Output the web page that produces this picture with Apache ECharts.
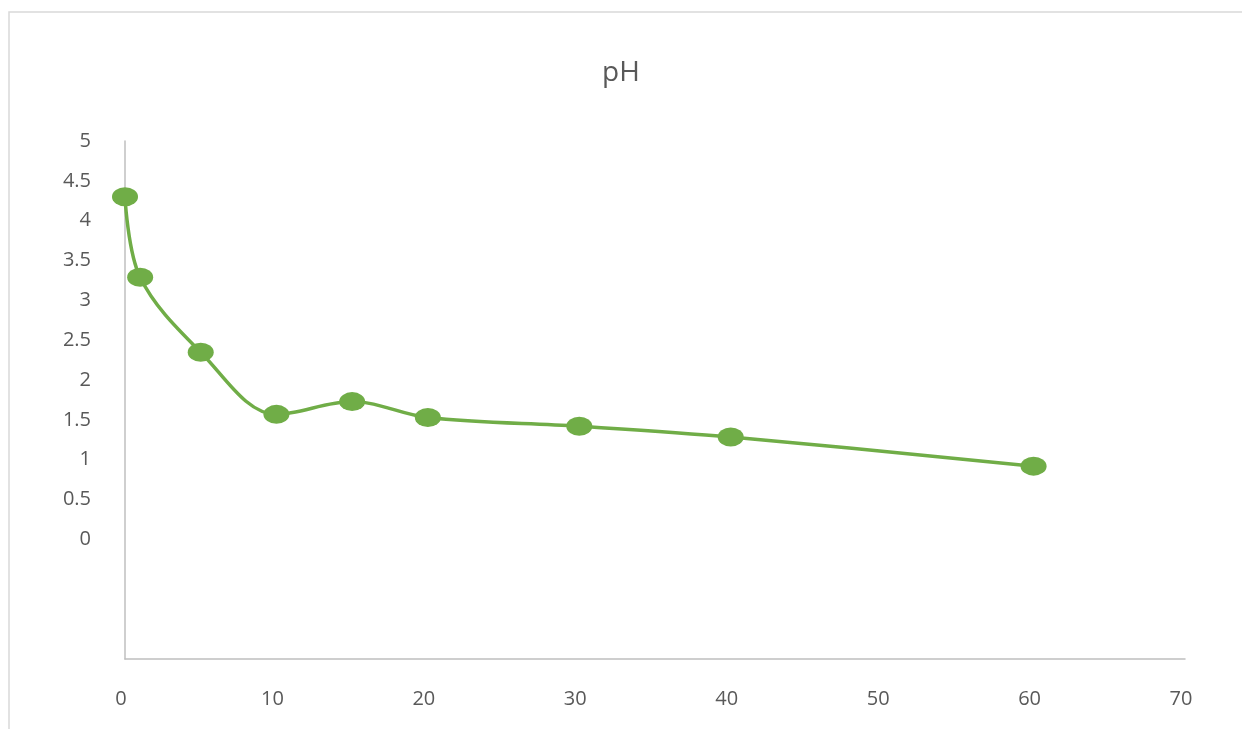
<!DOCTYPE html>
<html>
<head>
<meta charset="utf-8">
<script src="https://cdn.jsdelivr.net/npm/echarts@6/dist/echarts.min.js"></script>
<style>
  html, body { margin: 0; padding: 0; background: #ffffff; }
  #chart { width: 1242px; height: 729px; }
</style>
</head>
<body>
<div id="chart"></div>
<script>
// Time values and measured pH
const times = [0, 1, 5, 10, 15, 20, 30, 40, 60];
const phValues = [4.3, 3.29, 2.35, 1.57, 1.73, 1.53, 1.42, 1.285, 0.92];

const textColor = '#595959';
const axisColor = '#bfbfbf';
const lineColor = '#70ad47';
const fontFamily = '"Open Sans", "Noto Sans", sans-serif';

const chart = echarts.init(document.getElementById('chart'), null, { renderer: 'canvas' });

chart.setOption({
  animation: false,
  backgroundColor: '#ffffff',
  graphic: [{
    type: 'rect',
    shape: { x: 9, y: 12, width: 1300, height: 800 },
    style: { fill: 'none', stroke: '#d9d9d9', lineWidth: 1.5 },
    silent: true
  }],
  title: {
    text: 'pH',
    left: 'center',
    top: 54,
    textStyle: { color: textColor, fontSize: 28, fontWeight: 'normal', fontFamily: fontFamily }
  },
  grid: { left: 125, right: 57, top: 141, bottom: 70, containLabel: false },
  xAxis: {
    type: 'value',
    min: 0,
    max: 70,
    interval: 10,
    axisLine: { show: true, onZero: false, lineStyle: { color: axisColor, width: 1.5 } },
    axisTick: { show: false },
    splitLine: { show: false },
    axisLabel: {
      color: textColor, fontSize: 20, fontFamily: fontFamily,
      margin: 30, padding: [0, 8, 0, 0]
    }
  },
  yAxis: {
    type: 'value',
    min: -1.5,
    max: 5,
    interval: 0.5,
    axisLine: { show: true, onZero: false, lineStyle: { color: axisColor, width: 1.5 } },
    axisTick: { show: false },
    splitLine: { show: false },
    axisLabel: {
      color: textColor, fontSize: 20, fontFamily: fontFamily, margin: 34,
      formatter: function (v) { return v < 0 ? '' : String(v); }
    }
  },
  series: [{
    type: 'line',
    data: times.map((t, i) => [t, phValues[i]]),
    smooth: 0.35,
    symbol: 'circle',
    symbolSize: [26, 19],
    showAllSymbol: true,
    lineStyle: { color: lineColor, width: 3.5 },
    itemStyle: { color: lineColor, borderWidth: 0 },
    z: 3
  }]
});
</script>
</body>
</html>
